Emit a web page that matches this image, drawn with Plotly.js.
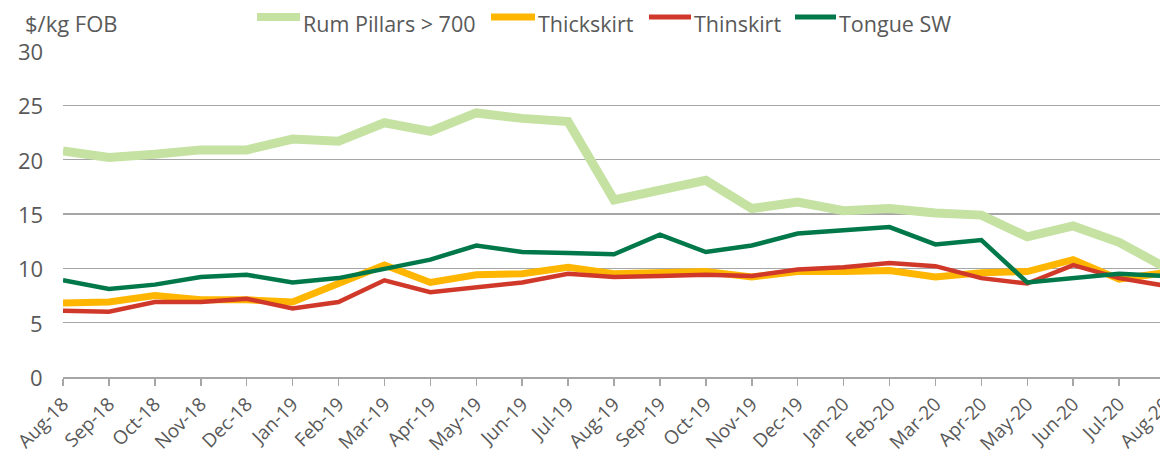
<!DOCTYPE html>
<html>
<head>
<meta charset="utf-8">
<script src="https://cdn.plot.ly/plotly-3.0.1.min.js"></script>
<style>
html,body{margin:0;padding:0;overflow:hidden;background:#fff;}
#chart{width:1166px;height:455px;}
</style>
</head>
<body>
<div id="chart"></div>
<script>
const months = ["Aug-18","Sep-18","Oct-18","Nov-18","Dec-18","Jan-19","Feb-19","Mar-19","Apr-19","May-19","Jun-19","Jul-19",
"Aug-19","Sep-19","Oct-19","Nov-19","Dec-19","Jan-20","Feb-20","Mar-20","Apr-20","May-20","Jun-20","Jul-20","Aug-20"];
const rumPillars = [20.8,20.2,20.5,20.9,20.9,21.9,21.7,23.4,22.6,24.3,23.8,23.5,16.3,17.2,18.1,15.5,16.1,15.3,15.5,15.1,14.9,12.9,13.9,12.4,10.1];
const thickskirt = [6.8,6.9,7.5,7.1,7.1,6.9,8.6,10.3,8.7,9.4,9.5,10.1,9.5,9.6,9.7,9.2,9.7,9.7,9.8,9.2,9.6,9.7,10.8,9.0,9.6];
const thinskirt  = [6.1,6.0,6.9,6.9,7.2,6.3,6.9,8.9,7.8,8.3,8.7,9.5,9.2,9.3,9.4,9.3,9.9,10.1,10.5,10.2,9.1,8.6,10.3,9.1,8.4];
const tongueSW   = [8.9,8.1,8.5,9.2,9.4,8.7,9.1,9.9,10.8,12.1,11.5,11.4,11.3,13.1,11.5,12.1,13.2,13.5,13.8,12.2,12.6,8.7,9.1,9.5,9.3];
const seriesNames = ["Rum Pillars > 700","Thickskirt","Thinskirt","Tongue SW"];
const yTicks = [0,5,10,15,20,25,30];

const font = "'Open Sans', sans-serif";
const txt = "#595959";

const W = 1166, H = 455, M = {l:63, r:1, t:51, b:78};
const plotW = W - M.l - M.r, plotH = H - M.t - M.b;
const px = v => (v - M.l) / plotW;          // page x -> paper x
const py = v => (H - M.b - v) / plotH;      // page y -> paper y

const styles = [
  {color:"#c5e2a3", w:9, lw:8, sym:[257,300], tx:302},
  {color:"#ffb600", w:7, lw:7, sym:[491,535], tx:537},
  {color:"#d0392a", w:4.5, lw:5, sym:[649,691], tx:693},
  {color:"#00784a", w:4.5, lw:5, sym:[795,836], tx:838}
];
const data = [rumPillars, thickskirt, thinskirt, tongueSW];

const traces = data.map((ys, i) => ({
  type:"scatter", mode:"lines", name:seriesNames[i], x:months, y:ys,
  line:{color:styles[i].color, width:styles[i].w}, showlegend:false
}));

const shapes = styles.map(s => ({
  type:"line", xref:"paper", yref:"paper",
  x0:px(s.sym[0]), x1:px(s.sym[1]), y0:py(17), y1:py(17),
  line:{color:s.color, width:s.lw}
}));
const annotations = styles.map((s, i) => ({
  text:seriesNames[i], xref:"paper", yref:"paper", x:px(s.tx), y:py(23),
  xanchor:"left", yanchor:"middle", showarrow:false, borderpad:0,
  font:{family:font, size:21.5, color:txt}
}));
annotations.push({text:"$/kg FOB", xref:"paper", yref:"paper", x:px(24), y:py(23),
  xanchor:"left", yanchor:"middle", showarrow:false, borderpad:0,
  font:{family:font, size:22, color:txt}});
yTicks.forEach(v => annotations.push({
  text:String(v), xref:"paper", yref:"y", x:px(44), y:v,
  xanchor:"right", yanchor:"middle", showarrow:false, borderpad:0,
  font:{family:font, size:22, color:txt}
}));

const layout = {
  width:W, height:H, margin:M,
  paper_bgcolor:"#fff", plot_bgcolor:"#fff",
  font:{family:font, color:txt, size:20},
  showlegend:false,
  xaxis:{type:"category", range:[0,24], tickangle:-45,
         showgrid:false, showline:true, linecolor:"#a6a6a6", linewidth:1.5,
         ticks:"outside", ticklen:7, tickcolor:"#a6a6a6", tickwidth:1.5,
         tickfont:{family:font, size:19, color:txt}, fixedrange:true},
  yaxis:{range:[0,30], tickvals:yTicks, showgrid:true, gridcolor:"#a6a6a6", gridwidth:1.5,
         zeroline:false, showline:false, ticks:"", showticklabels:false, fixedrange:true},
  shapes:shapes,
  annotations:annotations
};

Plotly.newPlot("chart", traces, layout, {staticPlot:true, displayModeBar:false});
</script>
</body>
</html>
